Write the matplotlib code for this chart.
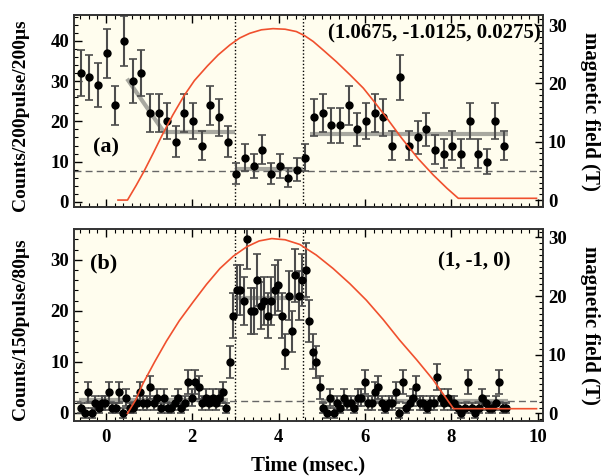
import matplotlib
matplotlib.use('Agg')
import matplotlib.pyplot as plt
from matplotlib.ticker import MultipleLocator

# フォント設定
plt.rcParams['font.family'] = ['Liberation Serif', 'DejaVu Serif']
plt.rcParams['font.weight'] = 'bold'

# (a) 200us ビン
time_a = [-0.58, -0.38, -0.18, 0.02, 0.22, 0.42, 0.62, 0.82, 1.02, 1.22,
          1.42, 1.62, 1.82, 2.02, 2.22, 2.42, 2.62, 2.82, 3.02, 3.22,
          3.42, 3.62, 3.82, 4.02, 4.22, 4.42, 4.62, 4.82, 5.02, 5.22,
          5.42, 5.62, 5.82, 6.02, 6.22, 6.42, 6.62, 6.82, 7.02, 7.22,
          7.42, 7.62, 7.82, 8.02, 8.22, 8.42, 8.62, 8.82, 9.02, 9.22]
counts_a = [32, 31, 29, 37, 24, 40, 30, 32, 22, 22,
            20, 15, 22, 20, 14, 24, 21, 15, 7, 11,
            9, 13, 7, 9, 6, 8, 11, 21, 22, 19,
            19, 24, 18, 20, 22, 21, 14, 31, 14, 16,
            18, 13, 12, 14, 12, 20, 12, 10, 20, 14]
err_a = [5.7, 5.6, 5.4, 6.1, 4.9, 6.3, 5.5, 5.7, 4.7, 4.7,
         4.5, 3.9, 4.7, 4.5, 3.7, 4.9, 4.6, 3.9, 2.6, 3.3,
         3.0, 3.6, 2.6, 3.0, 2.4, 2.8, 3.3, 4.6, 4.7, 4.4,
         4.4, 4.9, 4.2, 4.5, 4.7, 4.6, 3.7, 5.6, 3.7, 4.0,
         4.2, 3.6, 3.5, 3.7, 3.5, 4.5, 3.5, 3.2, 4.5, 3.7]

# (b) 80us ビン
time_b = [-0.57, -0.49, -0.41, -0.33, -0.25, -0.17, -0.09, -0.01, 0.07, 0.15,
          0.23, 0.31, 0.39, 0.47, 0.55, 0.63, 0.71, 0.79, 0.87, 0.95,
          1.03, 1.11, 1.19, 1.27, 1.35, 1.43, 1.51, 1.59, 1.67, 1.75,
          1.83, 1.91, 1.99, 2.07, 2.15, 2.23, 2.31, 2.39, 2.47, 2.55,
          2.63, 2.71, 2.79, 2.87, 2.95, 3.03, 3.11, 3.19, 3.27, 3.35,
          3.43, 3.51, 3.59, 3.67, 3.75, 3.83, 3.91, 3.99, 4.07, 4.15,
          4.23, 4.31, 4.39, 4.47, 4.55, 4.63, 4.71, 4.79, 4.87, 4.95,
          5.03, 5.11, 5.19, 5.27, 5.35, 5.43, 5.51, 5.59, 5.67, 5.75,
          5.83, 5.91, 5.99, 6.07, 6.15, 6.23, 6.31, 6.39, 6.47, 6.55,
          6.63, 6.71, 6.79, 6.87, 6.95, 7.03, 7.11, 7.19, 7.27, 7.35,
          7.43, 7.51, 7.59, 7.67, 7.75, 7.83, 7.91, 7.99, 8.07, 8.15,
          8.23, 8.31, 8.39, 8.47, 8.55, 8.63, 8.71, 8.79, 8.87, 8.95,
          9.03, 9.11, 9.19, 9.27]
counts_b = [1, 0, 4, 0, 2, 1, 2, 2, 4, 1,
            1, 4, 0, 3, 1, 1, 2, 4, 2, 2,
            5, 2, 3, 1, 3, 1, 1, 2, 3, 1,
            2, 6, 3, 6, 5, 2, 3, 2, 3, 2,
            3, 4, 1, 10, 19, 24, 24, 22, 34, 20,
            20, 26, 21, 22, 19, 22, 24, 25, 19, 12,
            23, 16, 27, 23, 26, 28, 18, 12, 10, 5,
            1, 0, 3, 0, 2, 1, 3, 2, 2, 1,
            3, 3, 6, 2, 2, 4, 5, 2, 1, 2,
            2, 4, 0, 6, 1, 2, 3, 5, 2, 2,
            1, 2, 2, 7, 3, 2, 3, 2, 2, 1,
            0, 1, 6, 1, 0, 1, 3, 2, 1, 1,
            2, 6, 1, 1]
err_b = [1.0, 1.0, 2.0, 1.0, 1.4, 1.0, 1.4, 1.4, 2.0, 1.0,
         1.0, 2.0, 1.0, 1.7, 1.0, 1.0, 1.4, 2.0, 1.4, 1.4,
         2.2, 1.4, 1.7, 1.0, 1.7, 1.0, 1.0, 1.4, 1.7, 1.0,
         1.4, 2.4, 1.7, 2.4, 2.2, 1.4, 1.7, 1.4, 1.7, 1.4,
         1.7, 2.0, 1.0, 3.2, 4.4, 4.9, 4.9, 4.7, 5.8, 4.5,
         4.5, 5.1, 4.6, 4.7, 4.4, 4.7, 4.9, 5.0, 4.4, 3.5,
         4.8, 4.0, 5.2, 4.8, 5.1, 5.3, 4.2, 3.5, 3.2, 2.2,
         1.0, 1.0, 1.7, 1.0, 1.4, 1.0, 1.7, 1.4, 1.4, 1.0,
         1.7, 1.7, 2.4, 1.4, 1.4, 2.0, 2.2, 1.4, 1.0, 1.4,
         1.4, 2.0, 1.0, 2.4, 1.0, 1.4, 1.7, 2.2, 1.4, 1.4,
         1.0, 1.4, 1.4, 2.6, 1.7, 1.4, 1.7, 1.4, 1.4, 1.0,
         1.0, 1.0, 2.4, 1.0, 1.0, 1.0, 1.7, 1.4, 1.0, 1.0,
         1.4, 2.4, 1.0, 1.0]

# パルス磁場 (T)
field_t_a = [0.28, 0.50, 0.70, 0.88, 1.10, 1.30, 1.55, 1.81, 2.05, 2.35,
             2.60, 2.87, 3.10, 3.33, 3.60, 3.87, 4.15, 4.41, 4.60, 4.80,
             5.05, 5.34, 5.65, 5.96, 6.22, 6.48, 6.85, 7.23, 7.58, 7.90,
             8.16, 9.97]
field_a = [0.0, 0.0, 2.5, 4.9, 8.1, 11.1, 14.6, 17.9, 20.5, 23.0,
           24.9, 26.6, 27.8, 28.6, 29.2, 29.4, 29.3, 28.9, 28.2, 27.2,
           25.6, 23.7, 21.5, 19.2, 16.8, 14.3, 10.6, 7.1, 4.3, 2.0,
           0.3, 0.3]
field_t_b = [0.50, 0.69, 0.86, 1.13, 1.40, 1.70, 2.02, 2.33, 2.64, 2.95,
             3.26, 3.55, 3.84, 4.15, 4.49, 4.87, 5.26, 5.65, 6.03, 6.42,
             6.80, 7.20, 7.58, 7.77, 8.05, 9.97]
field_b = [0.0, 2.3, 5.1, 8.8, 12.3, 15.8, 19.0, 22.0, 24.7, 26.8,
           28.4, 29.4, 29.8, 29.6, 28.8, 27.0, 24.7, 22.1, 19.3, 16.0,
           12.5, 9.1, 5.7, 3.7, 0.8, 0.8]

# フィット線 (開始t, 終了t, 開始値, 終了値)
fit_a = [(0.49, 1.34, 30.6, 17.4), (1.34, 3.0, 17.4, 17.4),
         (3.0, 4.57, 8.2, 8.2), (4.72, 9.31, 16.8, 16.8)]
fit_b = [(-0.62, 2.83, 2.5, 2.5), (2.92, 4.68, 22.5, 22.5), (4.98, 9.31, 2.4, 2.4)]

gate_lines = [3.0, 4.57]
base_a = 7.6
base_b = 2.3

bg = '#fffdee'
red = '#f0502e'

fig = plt.figure(figsize=(6.06, 4.76), dpi=100)
ax_a = fig.add_axes([0.122, 0.565, 0.774, 0.403])
ax_b = fig.add_axes([0.122, 0.1155, 0.774, 0.403])


def draw_panel(ax, t, c, e, fits, base, ft, fb, ylim, ylim2, ylabel):
    ax.set_facecolor(bg)
    for t0, t1, v0, v1 in fits:
        ax.plot([t0, t1], [v0, v1], color='#a8a8a0', lw=3, zorder=1, solid_capstyle='butt')
    ax.axhline(base, color='0.4', lw=1, ls=(0, (5, 3)), zorder=1)
    for g in gate_lines:
        ax.axvline(g, color='black', lw=1, ls=(0, (1, 1.5)), zorder=1)
    ax.errorbar(t, c, yerr=e, fmt='o', color='black', ms=5, ecolor='0.3',
                elinewidth=1.5, capsize=3, capthick=1.2, zorder=3)
    ax.set_xlim(-0.74, 10.12)
    ax.set_ylim(*ylim)
    ax.xaxis.set_major_locator(MultipleLocator(2))
    ax.xaxis.set_minor_locator(MultipleLocator(0.2))
    ax.yaxis.set_major_locator(MultipleLocator(10))
    ax.yaxis.set_minor_locator(MultipleLocator(2))
    ax.tick_params(which='both', direction='in', top=True, right=False, labelsize=13.5)
    ax.tick_params(which='major', length=6, width=1)
    ax.tick_params(which='minor', length=3, width=0.8)
    ax.tick_params(axis='x', pad=6)
    ax.set_ylabel(ylabel, fontsize=14, fontweight='bold')
    ax.yaxis.set_label_coords(-0.096, 0.48)

    tw = ax.twinx()
    tw.plot(ft, fb, color=red, lw=1.2, zorder=4)
    tw.set_ylim(*ylim2)
    tw.yaxis.set_major_locator(MultipleLocator(10))
    tw.yaxis.set_minor_locator(MultipleLocator(1))
    tw.tick_params(which='both', direction='in', labelsize=13.5)
    tw.tick_params(which='major', length=6, width=1)
    tw.tick_params(which='minor', length=3, width=0.8)
    tw.set_ylabel('magnetic field (T)', fontsize=15, fontweight='bold', rotation=270, va='center')
    tw.yaxis.set_label_coords(1.10, 0.5)
    for a in (ax, tw):
        for s in a.spines.values():
            s.set_linewidth(1.2)
            s.set_color('0.2')
    return tw


draw_panel(ax_a, time_a, counts_a, err_a, fit_a, base_a, field_t_a, field_a,
           (-1.3, 46.4), (-1.2, 31.7), 'Counts/200pulse/200μs')
draw_panel(ax_b, time_b, counts_b, err_b, fit_b, base_b, field_t_b, field_b,
           (-1.6, 36.0), (-1.3, 31.4), 'Counts/150pulse/80μs')

ax_a.tick_params(labelbottom=False)
ax_b.set_xlabel('Time (msec.)', fontsize=15, fontweight='bold')
ax_b.xaxis.set_label_coords(0.5, -0.18)

ax_a.text(0.04, 0.31, '(a)', transform=ax_a.transAxes, fontsize=16,
          fontweight='bold', va='center', ha='left', zorder=5)
ax_a.text(0.995, 0.905, '(1.0675, -1.0125, 0.0275)', transform=ax_a.transAxes,
          fontsize=15, fontweight='bold', va='center', ha='right', zorder=5)
ax_b.text(0.034, 0.82, '(b)', transform=ax_b.transAxes, fontsize=16,
          fontweight='bold', va='center', ha='left', zorder=5)
ax_b.text(0.93, 0.83, '(1, -1, 0)', transform=ax_b.transAxes, fontsize=15,
          fontweight='bold', va='center', ha='right', zorder=5)

fig.savefig('out.png', dpi=100)
